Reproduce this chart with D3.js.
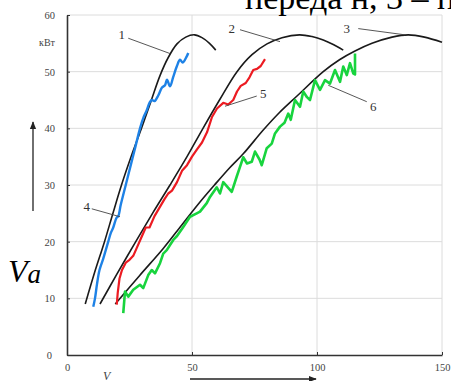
<!DOCTYPE html>
<html>
<head>
<meta charset="utf-8">
<script src="https://cdn.jsdelivr.net/npm/d3@7"></script>
<style>
body { margin: 0; background: #fff; }
svg { display: block; }
.tick text { font-family: "Liberation Serif", "DejaVu Serif", serif; }
</style>
</head>
<body>
<script>
var svgWidth = 451;
var svgHeight = 381;

// axis ticks
var xTicks = [0, 50, 100, 150];
var yTicks = [0, 10, 20, 30, 40, 50, 60];

// black model curves 1..3  [V km/h, kW]
var curve1 = [[7.3,9],[11,14.5],[15,20],[18.5,25.2],[21.8,30],[25.8,35.2],[29.8,40],[33.6,44.8],[37.2,49.3],[40.5,52.5],[44,54.9],[47.5,56.1],[51,56.5],[54,56],[57,55],[59.5,53.8]];
var curve2 = [[13.2,9],[20,14.3],[27.5,20],[34.5,25.2],[41.2,30],[48,35],[54.4,40],[61,45],[68,50],[74,53],[80,54.9],[86,56],[93,56.5],[98,56.2],[102.5,55.6],[106.5,54.8],[110.5,53.8]];
var curve3 = [[19.3,9],[29,14],[38.5,18.8],[46,23],[53.2,27],[59,30],[65,33],[70.5,35.5],[78.5,39.7],[85,42.8],[92,45.7],[102.5,50],[109,52.1],[115,53.6],[122,55],[130,56.1],[136.5,56.5],[143,56.1],[150,55.2]];

// measured curves 4..6
var series4 = [[10.5,8.5],[11.2,10],[12,12.5],[13,15],[14.5,17],[15.5,18.5],[16.5,20],[17.5,21.5],[18.5,22.5],[19.8,24.2],[20.5,24.5],[21.5,26.5],[23.5,30],[25.5,33.5],[27.5,37],[29.2,40],[30.5,41.8],[31.9,43.2],[33,44.5],[33.9,45],[35,44.8],[36.5,45.8],[38,47.2],[39.2,47.6],[40,48.6],[41.2,47.4],[42.5,49.1],[43.9,50.9],[45.2,52.1],[46.3,51.6],[47.9,52.7],[48.5,53.3]];
var series5 = [[19.9,8.9],[20.3,11],[21,13.5],[22,15],[23.5,16.3],[25,16.8],[26.5,17.5],[28,19],[30,21],[31.5,22.5],[33,22.5],[35,24.5],[37,26],[39,27.5],[40.5,28.5],[42,29],[44,30.5],[46,32.5],[48,33.5],[50,35],[52,36.3],[54,37.5],[56,39.3],[58,42],[60,43.5],[62.5,44.5],[64.5,44.2],[66.5,45],[68,46.5],[69.5,47.5],[71.5,48],[73,49],[74.5,50.3],[76,50.5],[77.5,51],[79.2,52.2]];
var series6 = [[22.5,7.4],[23.2,11.2],[24.5,10.3],[26.5,11.5],[29.2,12.4],[30.5,11.8],[32.5,14.1],[33.9,15],[35.2,14.4],[37.2,16.2],[38.5,17.9],[39.9,18.5],[42.5,20.3],[44,21],[46.5,22.6],[49.2,24.4],[51.9,25],[53.2,25.3],[55.9,26.8],[57.2,27.9],[59.9,29.6],[61.2,28.5],[62.5,30.5],[64.5,29.5],[65.9,28.8],[67.9,31.5],[69.2,33.2],[70.5,34.9],[72,33.8],[73.9,34.1],[75.2,35.9],[77,34.5],[77.9,33.5],[79.9,36.5],[81.9,37.3],[83.2,39.1],[85.2,40.3],[87,41],[88.5,42.6],[89.5,41.5],[91.2,45],[93.2,43.8],[94.5,46.5],[96,45.5],[97.2,45],[99.2,48.5],[101.2,46.8],[103.2,48.5],[105.2,47.9],[107.2,50.3],[109.2,48.2],[110.5,50.9],[111.9,49.4],[113.2,51.5],[114.5,49.7],[115.2,49.5],[115.2,53.2]];

// curve numbers and leader lines
var labelNames = ["1", "2", "3", "4", "5", "6"];
var labelPos = [[21.9,56.5],[65.9,57.6],[111.9,57.6],[7.9,26.2],[78.5,46.2],[122.5,43.8]];
var leaderFrom = [[24.5,55.9],[69.2,57.4],[116.5,57.6],[9.9,25.8],[75.9,45.7],[119.9,44.7]];
var leaderTo = [[41.2,53.2],[85.2,55.3],[135.2,56.5],[21.2,24.4],[63.2,43.9],[104.5,47.6]];

var margin = {top: 15, right: 9, bottom: 26, left: 67};
var width = svgWidth - margin.left - margin.right;
var height = svgHeight - margin.top - margin.bottom;

var svg = d3.select("body").append("svg").attr("width", svgWidth).attr("height", svgHeight);
var defs = svg.append("defs");
defs.append("marker").attr("id", "arr").attr("viewBox", "0 0 10 10").attr("refX", 9).attr("refY", 5)
  .attr("markerWidth", 7).attr("markerHeight", 6).attr("orient", "auto")
  .append("path").attr("d", "M0,1L10,5L0,9Z").attr("fill", "#222");

var chart = svg.append("g").attr("transform", `translate(${margin.left}, ${margin.top})`);

var x = d3.scaleLinear().domain([0, 150]).range([0, width]);
var y = d3.scaleLinear().domain([0, 60]).range([height, 0]);

// grid
chart.append("g").selectAll("line").data(xTicks.slice(1)).enter().append("line")
  .attr("x1", d => x(d)).attr("x2", d => x(d)).attr("y1", 0).attr("y2", height)
  .attr("stroke", "#dcdcdc").attr("stroke-width", 1);
chart.append("g").selectAll("line").data(yTicks.slice(1)).enter().append("line")
  .attr("x1", 0).attr("x2", width).attr("y1", d => y(d)).attr("y2", d => y(d))
  .attr("stroke", "#dcdcdc").attr("stroke-width", 1);

// axes
var xAxis = d3.axisBottom(x).tickValues(xTicks).tickSizeInner(-3).tickSizeOuter(0).tickPadding(9);
var gx = chart.append("g").attr("transform", `translate(0, ${height})`).call(xAxis);
var yAxis = d3.axisLeft(y).tickValues(yTicks).tickSizeInner(-3).tickSizeOuter(0).tickPadding(12);
var gy = chart.append("g").call(yAxis);
[gx, gy].forEach(g => {
  g.select(".domain").attr("stroke", "#333").attr("stroke-width", 1.6);
  g.selectAll(".tick line").attr("stroke", "#333");
  g.selectAll(".tick text").attr("font-size", 10.5).attr("fill", "#444");
});
gy.selectAll(".tick").filter(d => d === 0).select("text").attr("dx", -3);

chart.append("text").attr("x", -12).attr("y", y(54.6)).attr("text-anchor", "end")
  .attr("font-family", "Liberation Serif, serif").attr("font-size", 10).attr("fill", "#444").text("кВт");

// curves
var line = d3.line().x(d => x(d[0])).y(d => y(d[1]));
var smooth = d3.line().x(d => x(d[0])).y(d => y(d[1])).curve(d3.curveCatmullRom);

[curve1, curve2, curve3].forEach(c => {
  chart.append("path").datum(c).attr("d", smooth).attr("fill", "none")
    .attr("stroke", "#1a1a1a").attr("stroke-width", 1.6);
});
chart.append("path").datum(series4).attr("d", smooth).attr("fill", "none")
  .attr("stroke", "#1e82e6").attr("stroke-width", 2.4).attr("stroke-linejoin", "round");
chart.append("path").datum(series5).attr("d", line).attr("fill", "none")
  .attr("stroke", "#ec1b22").attr("stroke-width", 2.2).attr("stroke-linejoin", "round");
chart.append("path").datum(series6).attr("d", line).attr("fill", "none")
  .attr("stroke", "#18d43e").attr("stroke-width", 2.6).attr("stroke-linejoin", "round");

// leaders and numbers
chart.append("g").selectAll("line").data(leaderFrom).enter().append("line")
  .attr("x1", d => x(d[0])).attr("y1", d => y(d[1]))
  .attr("x2", (d, i) => x(leaderTo[i][0])).attr("y2", (d, i) => y(leaderTo[i][1]))
  .attr("stroke", "#444").attr("stroke-width", 0.9);
chart.append("g").selectAll("text").data(labelNames).enter().append("text")
  .attr("x", (d, i) => x(labelPos[i][0])).attr("y", (d, i) => y(labelPos[i][1]))
  .attr("dy", "0.35em").attr("text-anchor", "middle")
  .attr("font-family", "Liberation Serif, serif").attr("font-size", 13).attr("fill", "#333")
  .text(d => d);

// axis captions
svg.append("line").attr("x1", 33).attr("x2", 33).attr("y1", 211).attr("y2", 122)
  .attr("stroke", "#222").attr("stroke-width", 1.3).attr("marker-end", "url(#arr)");
svg.append("line").attr("x1", 190).attr("x2", 316).attr("y1", 379).attr("y2", 379)
  .attr("stroke", "#222").attr("stroke-width", 1.3).attr("marker-end", "url(#arr)");
svg.append("text").attr("x", 103).attr("y", 380).attr("font-family", "Liberation Serif, serif")
  .attr("font-style", "italic").attr("font-size", 12).attr("fill", "#444").text("V");
svg.append("text").attr("x", 411).attr("y", 388).attr("font-family", "Liberation Serif, serif")
  .attr("font-size", 11).attr("fill", "#555").text("км/год");

var va = svg.append("text").attr("x", 8).attr("y", 282)
  .attr("font-family", "Liberation Serif, serif").attr("font-style", "italic").attr("fill", "#000");
va.append("tspan").attr("font-size", 32).text("V");
va.append("tspan").attr("font-size", 27).attr("dy", 1).text("a");

svg.append("text").attr("x", 245).attr("y", 9).attr("font-family", "Liberation Serif, serif")
  .attr("font-size", 34).attr("fill", "#000").text("переда н, 3 – пр");
</script>
</body>
</html>
